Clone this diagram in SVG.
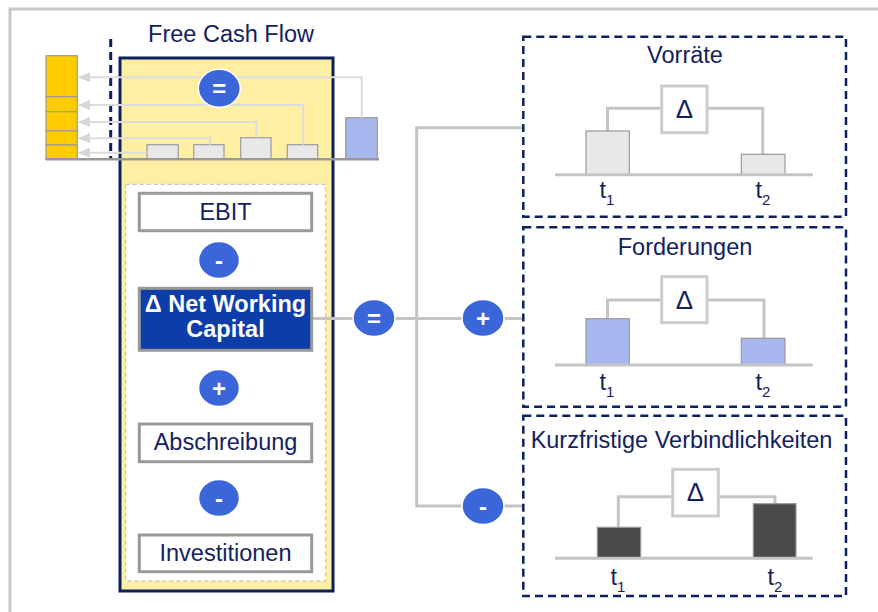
<svg xmlns="http://www.w3.org/2000/svg" width="878" height="612" viewBox="0 0 878 612">
<defs>
<marker id="ah" viewBox="0 0 12 10" refX="11" refY="5" markerWidth="12" markerHeight="10" markerUnits="userSpaceOnUse" orient="auto">
<path d="M0,0 L12,5 L0,10 Z" fill="#d6d6d6"/>
</marker>
<style>
.t{font-family:"Liberation Sans",Arial,sans-serif;font-size:23.5px;fill:#13225e;text-anchor:middle}
.tb{font-family:"Liberation Sans",Arial,sans-serif;font-size:23.5px;fill:#ffffff;font-weight:bold;text-anchor:middle}
.sym{font-family:"Liberation Sans",Arial,sans-serif;font-size:24px;fill:#ffffff;font-weight:bold;text-anchor:middle}
.box{fill:#ffffff;stroke:#999999;stroke-width:3}
.circ{fill:#3a66d9;stroke:#ffffff;stroke-width:1.5}
.dash{fill:none;stroke:#0b2160;stroke-width:2.5;stroke-dasharray:8,5}
.bar{stroke:#9a9a9a;stroke-width:1.2}
.g{fill:#e8e8e8}
.b{fill:#a7b8ee}
.k{fill:#4a4a4a}
.y{fill:#ffcc00}
.con{fill:none;stroke:#c4c4c4;stroke-width:3}
.arr{fill:none;stroke:#dcdcdc;stroke-width:2}
.dbox{fill:#ffffff;stroke:#cccccc;stroke-width:3}
.axis{stroke:#c4c4c4;stroke-width:3}
</style>
</defs>
<rect width="878" height="612" fill="#ffffff"/>
<path d="M10,612 L10,9 L878,9" fill="none" stroke="#c8c8c8" stroke-width="3"/>

<g id="free-cash-flow">
<text class="t" x="231" y="41.5">Free Cash Flow</text>
<line x1="110.7" y1="39" x2="110.7" y2="159" stroke="#0b2160" stroke-width="3" stroke-dasharray="8,5"/>
<rect x="120" y="58" width="213" height="533" fill="#ffefa3" stroke="#0b2160" stroke-width="3"/>
<rect x="125.7" y="184.3" width="200" height="396.7" fill="#ffffff" stroke="#b8b8b8" stroke-width="1" stroke-dasharray="4,3"/>
</g>

<g id="top-bars">
<rect class="bar y" x="46" y="55.7" width="31.3" height="41"/>
<rect class="bar y" x="46" y="96.7" width="31.3" height="15"/>
<rect class="bar y" x="46" y="111.7" width="31.3" height="19.3"/>
<rect class="bar y" x="46" y="131" width="31.3" height="14"/>
<rect class="bar y" x="46" y="145" width="31.3" height="14.3"/>
<rect class="bar g" x="147" y="144.7" width="31.3" height="14.6"/>
<rect class="bar g" x="193.7" y="144.7" width="30.3" height="14.6"/>
<rect class="bar g" x="240.7" y="137.7" width="30.3" height="21.6"/>
<rect class="bar g" x="287.3" y="144.7" width="30.4" height="14.6"/>
<rect class="bar b" x="345.7" y="117.7" width="31.6" height="41.6"/>
<line x1="45.7" y1="159.3" x2="379" y2="159.3" stroke="#999999" stroke-width="2.5"/>
</g>

<g id="connectors">
<path class="arr" d="M361.7,117.7 L361.7,77.3 L79,77.3" marker-end="url(#ah)"/>
<path class="arr" d="M303.3,144.7 L303.3,105 L79,105" marker-end="url(#ah)"/>
<path class="arr" d="M256.3,137.7 L256.3,122 L79,122" marker-end="url(#ah)"/>
<path class="arr" d="M210,144.7 L210,138.3 L79,138.3" marker-end="url(#ah)"/>
<path class="arr" d="M147,152.7 L79,152.7" marker-end="url(#ah)"/>
<line class="con" x1="312" y1="318.5" x2="523" y2="318.5"/>
<path class="con" d="M523,127.7 L416.7,127.7 L416.7,506 L523,506"/>
</g>

<g id="op-eq-top"><ellipse class="circ" cx="219.3" cy="88.3" rx="21" ry="19"/><text class="sym" x="219.3" y="97">=</text></g>

<g id="ebit"><rect class="box" x="139.3" y="193.3" width="172.4" height="37.4"/><text class="t" x="225.5" y="220">EBIT</text></g>
<g id="op-minus-1"><ellipse class="circ" cx="219" cy="260" rx="20.5" ry="18.5"/><text class="sym" x="219" y="268.5">-</text></g>
<g id="nwc"><rect x="139.3" y="288.3" width="172.4" height="62" fill="#0c3da9" stroke="#999999" stroke-width="3"/><text class="tb" x="225.5" y="311.7">Δ Net Working</text><text class="tb" x="225.5" y="336.7">Capital</text></g>
<g id="op-plus-1"><ellipse class="circ" cx="219" cy="388" rx="20.5" ry="18.5"/><text class="sym" x="219" y="396.5">+</text></g>
<g id="abschreibung"><rect class="box" x="139.3" y="424" width="172.4" height="37.7"/><text class="t" x="225.5" y="450">Abschreibung</text></g>
<g id="op-minus-2"><ellipse class="circ" cx="219" cy="498" rx="20.5" ry="18.5"/><text class="sym" x="219" y="506.5">-</text></g>
<g id="investitionen"><rect class="box" x="139.3" y="535" width="172.4" height="36.7"/><text class="t" x="225.5" y="561">Investitionen</text></g>

<g id="op-eq-right"><ellipse class="circ" cx="374" cy="318" rx="21" ry="18.5"/><text class="sym" x="374" y="326.5">=</text></g>
<g id="op-plus-right"><ellipse class="circ" cx="483" cy="318" rx="21" ry="18.5"/><text class="sym" x="483" y="326.5">+</text></g>
<g id="op-minus-right"><ellipse class="circ" cx="483" cy="506" rx="21" ry="18.5"/><text class="sym" x="483" y="514.5">-</text></g>

<g id="vorraete">
<rect class="dash" x="523.3" y="36.7" width="322.7" height="180"/>
<text class="t" x="685" y="62.7">Vorräte</text>
<path class="con" d="M607.5,131 L607.5,108.3 L661.7,108.3 M707,108.3 L762.7,108.3 L762.7,154.3"/>
<rect class="bar g" x="586" y="131" width="43.3" height="43.7"/>
<rect class="bar g" x="741.3" y="154.3" width="43.7" height="20.4"/>
<line class="axis" x1="555" y1="174.7" x2="812.7" y2="174.7"/>
<rect class="dbox" x="661.7" y="86" width="45.3" height="46.7"/>
<text class="t" x="684.4" y="118" style="font-size:26px">Δ</text>
<text class="t" x="607" y="198">t<tspan style="font-size:15px" dy="7">1</tspan></text>
<text class="t" x="763" y="198">t<tspan style="font-size:15px" dy="7">2</tspan></text>
</g>

<g id="forderungen">
<rect class="dash" x="523.3" y="227.3" width="322.7" height="179.4"/>
<text class="t" x="685" y="255">Forderungen</text>
<path class="con" d="M607.5,318.7 L607.5,300 L661.7,300 M707,300 L764,300 L764,338.3"/>
<rect class="bar b" x="586" y="318.7" width="43.3" height="46.3"/>
<rect class="bar b" x="741.3" y="338.3" width="43.7" height="26.7"/>
<line class="axis" x1="555" y1="365" x2="812.7" y2="365"/>
<rect class="dbox" x="661.7" y="276.7" width="45.3" height="46"/>
<text class="t" x="684.4" y="308.5" style="font-size:26px">Δ</text>
<text class="t" x="607" y="390">t<tspan style="font-size:15px" dy="7">1</tspan></text>
<text class="t" x="763" y="390">t<tspan style="font-size:15px" dy="7">2</tspan></text>
</g>

<g id="verbindlichkeiten">
<rect class="dash" x="523.3" y="415.7" width="322.7" height="180.3"/>
<text class="t" x="681.5" y="447.7">Kurzfristige Verbindlichkeiten</text>
<path class="con" d="M618.3,527.3 L618.3,496.7 L672.7,496.7 M718.3,496.7 L775,496.7 L775,503.7"/>
<rect class="bar k" x="597.3" y="527.3" width="43.4" height="31"/>
<rect class="bar k" x="753.3" y="503.7" width="42.7" height="54.6"/>
<line class="axis" x1="555" y1="558.3" x2="812.7" y2="558.3"/>
<rect class="dbox" x="672.7" y="469.3" width="45.6" height="46.7"/>
<text class="t" x="695.5" y="501" style="font-size:26px">Δ</text>
<text class="t" x="618" y="585">t<tspan style="font-size:15px" dy="7">1</tspan></text>
<text class="t" x="775" y="585">t<tspan style="font-size:15px" dy="7">2</tspan></text>
</g>
</svg>
